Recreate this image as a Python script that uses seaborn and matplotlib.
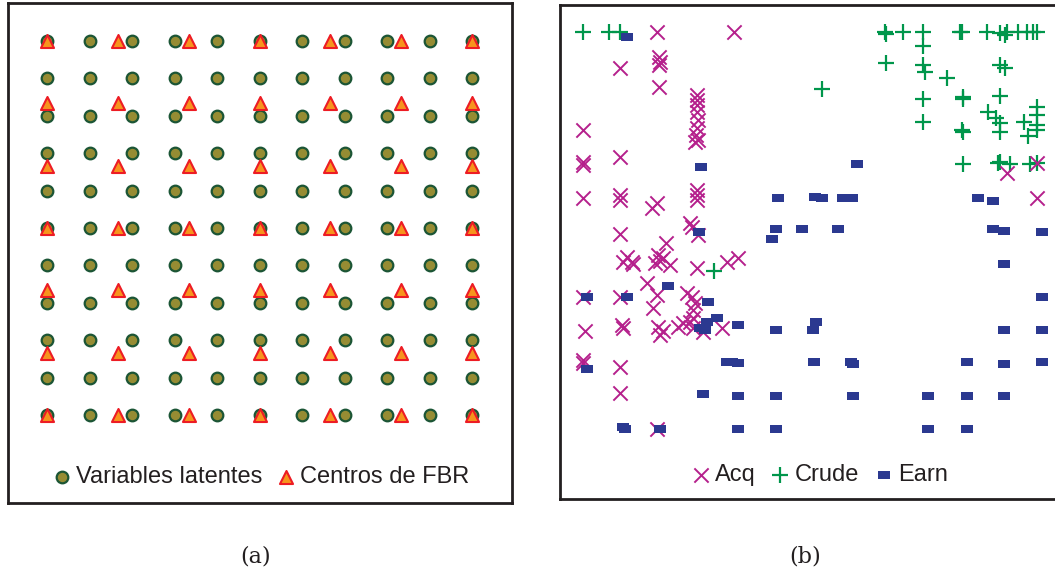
import itertools
import pandas as pd
import matplotlib.pyplot as plt
import seaborn as sns
from matplotlib.path import Path

# (a) grid of latent variables and RBF centres, in latent space [-1, 1]
latent_axis = [-1.0, -0.8, -0.6, -0.4, -0.2, 0.0, 0.2, 0.4, 0.6, 0.8, 1.0]
rbf_axis = [-1.0, -0.667, -0.333, 0.0, 0.333, 0.667, 1.0]

# (b) projected documents per class, in grid units (0..12)
acq_pts = [
    (1.89, 12.03), (3.92, 12.03), (0.92, 10.94), (1.95, 11.27), (1.95, 11.03),
    (1.97, 11.12), (1.95, 10.36), (2.95, 10.12), (2.95, 9.97), (2.95, 9.82),
    (2.95, 9.61), (2.97, 9.36), (2.95, 9.12), (2.92, 8.91), (2.89, 8.7),
    (2.97, 8.76), (-0.05, 9.06), (-0.05, 8.09), (-0.05, 8.0), (0.92, 8.24),
    (-0.05, 7.0), (0.92, 7.09), (0.92, 6.94), (1.76, 6.7), (1.89, 6.85),
    (2.95, 7.24), (2.95, 7.09), (2.95, 6.94), (2.76, 6.24), (11.11, 7.76),
    (11.89, 8.06), (11.89, 7.0), (0.92, 5.91), (2.82, 6.12), (2.97, 5.88),
    (2.13, 5.64), (1.1, 5.21), (1.0, 5.06), (1.24, 5.06), (1.26, 5.0),
    (1.92, 5.27), (1.97, 5.09), (1.84, 5.03), (2.05, 5.18), (2.24, 4.97),
    (2.95, 4.88), (3.74, 5.06), (4.03, 5.18), (1.63, 4.42), (1.89, 4.06),
    (1.79, 3.67), (-0.05, 4.0), (0.92, 4.0), (2.68, 4.12), (2.82, 4.0),
    (2.89, 3.82), (0.0, 2.97), (0.97, 3.15), (1.0, 3.06), (1.92, 3.09),
    (2.05, 2.97), (1.97, 2.85), (2.45, 3.09), (2.58, 3.21), (2.76, 3.24),
    (2.84, 3.06), (2.84, 3.61), (2.84, 3.36), (3.1, 2.94), (3.61, 3.06),
    (-0.05, 2.0), (-0.05, 2.09), (0.92, 1.88), (0.92, 1.09), (1.89, 0.0),
]
crude_pts = [
    (-0.05, 12.03), (0.63, 12.03), (0.92, 12.03), (7.89, 12.03), (7.92, 11.97),
    (7.92, 11.09), (6.24, 10.3), (8.37, 12.03), (8.89, 12.03), (8.89, 11.61),
    (9.87, 12.03), (9.92, 12.03), (10.58, 12.03), (10.92, 12.0), (11.05, 11.94),
    (11.11, 12.03), (11.39, 12.03), (11.63, 12.03), (11.79, 12.03), (11.89, 12.03),
    (8.89, 11.03), (8.95, 10.82), (9.53, 10.64), (10.92, 11.03), (11.05, 10.94),
    (8.89, 10.0), (9.95, 10.06), (9.95, 10.0), (10.92, 10.09), (10.61, 9.61),
    (10.82, 9.42), (10.92, 9.27), (10.92, 9.0), (11.55, 9.3), (11.66, 8.88),
    (11.89, 9.76), (11.89, 9.52), (11.89, 9.21), (11.89, 9.06), (8.89, 9.3),
    (9.92, 9.06), (9.95, 9.0), (9.95, 8.03), (10.87, 8.06), (10.92, 8.09),
    (11.18, 8.03), (11.71, 8.03), (11.89, 8.06), (3.39, 4.79),
]
earn_pts = [
    (1.1, 11.88), (3.05, 7.94), (7.16, 8.03), (5.08, 7.0), (6.05, 7.03),
    (6.24, 7.0), (6.79, 7.0), (7.03, 7.0), (10.34, 7.0), (10.74, 6.91),
    (5.03, 6.06), (5.71, 6.06), (6.66, 6.06), (4.92, 5.76), (10.74, 6.06),
    (11.03, 6.0), (12.03, 5.97), (3.0, 5.97), (11.03, 5.0), (2.18, 4.33),
    (0.05, 4.0), (1.1, 4.0), (3.24, 3.85), (12.03, 4.0), (3.03, 3.06),
    (3.21, 3.24), (3.47, 3.36), (3.16, 3.0), (4.03, 3.15), (5.03, 3.0),
    (6.08, 3.24), (6.0, 3.0), (11.03, 3.0), (12.03, 3.0), (0.05, 1.82),
    (3.74, 2.03), (3.87, 2.03), (4.03, 2.0), (6.03, 2.03), (7.0, 2.03),
    (7.05, 1.97), (10.05, 2.03), (11.03, 1.97), (12.03, 2.03), (3.1, 1.06),
    (4.03, 1.0), (5.03, 1.0), (7.05, 1.0), (9.03, 1.0), (10.05, 1.0),
    (11.03, 1.0), (1.0, 0.06), (1.05, 0.0), (1.97, 0.0), (4.03, 0.0),
    (5.03, 0.0), (9.03, 0.0), (10.05, 0.0),
]

latent = pd.DataFrame(list(itertools.product(latent_axis, latent_axis)), columns=['x', 'y'])
centres = pd.DataFrame(list(itertools.product(rbf_axis, rbf_axis)), columns=['x', 'y'])
acq = pd.DataFrame(acq_pts, columns=['x', 'y'])
crude = pd.DataFrame(crude_pts, columns=['x', 'y'])
earn = pd.DataFrame(earn_pts, columns=['x', 'y'])

sns.set_style('white')
plt.rcParams['font.family'] = ['Liberation Sans', 'DejaVu Sans']
frame_col = '#231f20'

W, H = 1055, 577
fig = plt.figure(figsize=(W / 100, H / 100), dpi=100)

# Panel (a)
ax = fig.add_axes([8 / W, 1 - 503 / H, 504 / W, 500 / H])
sns.scatterplot(data=latent, x='x', y='y', ax=ax, marker='o', s=70,
                color='#968c33', edgecolor='#1b5535', linewidth=1.6,
                label='Variables latentes', zorder=2)
sns.scatterplot(data=centres, x='x', y='y', ax=ax, marker='^', s=88,
                color='#f7941d', edgecolor='#ed1c24', linewidth=1.5,
                label='Centros de FBR', zorder=3)
ax.set_xlim(-1.1835, 1.188)
ax.set_ylim(-1.47, 1.203)
ax.legend(loc='center', bbox_to_anchor=(0.5, 26 / 500), ncol=2, frameon=False,
          fontsize=17, handletextpad=0.15, columnspacing=0.55, handlelength=0.9,
          borderaxespad=0, labelcolor=frame_col)

# Panel (b)
ax2 = fig.add_axes([560 / W, 1 - 499 / H, 506 / W, 494 / H])
rect = Path([(-1, -0.6), (1, -0.6), (1, 0.6), (-1, 0.6), (-1, -0.6)],
            [Path.MOVETO, Path.LINETO, Path.LINETO, Path.LINETO, Path.CLOSEPOLY])
sns.scatterplot(data=crude, x='x', y='y', ax=ax2, marker='+', s=140,
                color='#00964b', linewidth=1.6, label='Crude', zorder=2)
sns.scatterplot(data=acq, x='x', y='y', ax=ax2, marker='x', s=105,
                color='#b5208c', linewidth=1.4, label='Acq', zorder=3)
sns.scatterplot(data=earn, x='x', y='y', ax=ax2, marker=rect, s=85,
                color='#2b3990', linewidth=0, label='Earn', zorder=4)
ax2.set_xlim(-0.658, 12.66)
ax2.set_ylim(-2.12, 12.85)
h, l = ax2.get_legend_handles_labels()
order = [1, 0, 2]
ax2.legend([h[i] for i in order], [l[i] for i in order], loc='center',
           bbox_to_anchor=((819 - 560) / 506, 24 / 494), ncol=3, frameon=False,
           fontsize=17, handletextpad=0.15, columnspacing=0.6, handlelength=0.9,
           borderaxespad=0, labelcolor=frame_col)

for a in (ax, ax2):
    a.set_xticks([])
    a.set_yticks([])
    a.set_xlabel('')
    a.set_ylabel('')
    for sp in a.spines.values():
        sp.set_visible(True)
        sp.set_linewidth(2)
        sp.set_color(frame_col)

fig.text(256 / W, 1 - 556 / H, '(a)', ha='center', va='center',
         family='DejaVu Serif', fontsize=16, color=frame_col)
fig.text(805 / W, 1 - 556 / H, '(b)', ha='center', va='center',
         family='DejaVu Serif', fontsize=16, color=frame_col)

fig.savefig('out.png', dpi=100)
